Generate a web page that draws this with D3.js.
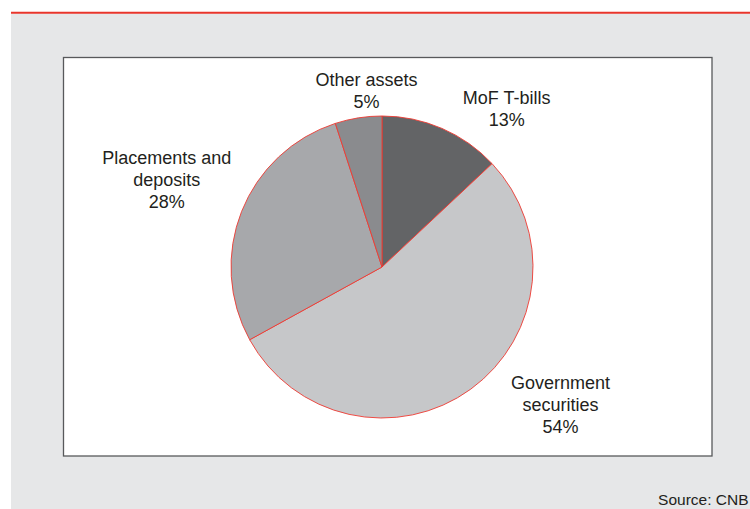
<!DOCTYPE html>
<html>
<head>
<meta charset="utf-8">
<script src="https://cdn.jsdelivr.net/npm/d3@7"></script>
<style>
  html, body { margin: 0; padding: 0; background: #ffffff; }
  svg { display: block; }
  text { font-family: "Liberation Sans", Arial, Helvetica, sans-serif; fill: #231f20; }
</style>
</head>
<body>
<svg id="chart" width="750" height="509"></svg>
<script>
// Asset structure, shares in percent (clockwise from 12 o'clock)
const categories = ["MoF T-bills", "Government securities", "Placements and deposits", "Other assets"];
const values = [13, 54, 28, 5];
const labelLines = [
  ["MoF T-bills", "13%"],
  ["Government", "securities", "54%"],
  ["Placements and", "deposits", "28%"],
  ["Other assets", "5%"]
];
const sliceColors = ["#636466", "#c6c7c9", "#a7a8ab", "#8a8b8e"];

const W = 750, H = 509;
const svg = d3.select("#chart");

// red rule and grey panel
svg.append("rect").attr("x", 11).attr("y", 13.5).attr("width", W - 11).attr("height", H - 13.5).attr("fill", "#e6e7e8");
svg.append("line").attr("x1", 11).attr("x2", W).attr("y1", 12.7).attr("y2", 12.7)
  .attr("stroke", "#e8352b").attr("stroke-width", 2);

// white plot box
const box = { x: 63.5, y: 57.5, w: 648.5, h: 398.5 };
svg.append("rect").attr("x", box.x).attr("y", box.y).attr("width", box.w).attr("height", box.h)
  .attr("fill", "#ffffff").attr("stroke", "#58595b").attr("stroke-width", 1.3);

// pie
const cx = 382, cy = 267, r = 151;
const pie = d3.pie().sort(null).value(d => d)(values);
const arc = d3.arc().innerRadius(0).outerRadius(r);
const g = svg.append("g").attr("transform", `translate(${cx},${cy})`);
g.selectAll("path").data(pie).join("path")
  .attr("d", arc)
  .attr("fill", (d, i) => sliceColors[i])
  .attr("stroke", "#ee3a32")
  .attr("stroke-width", 0.9)
  .attr("stroke-linejoin", "round");

// slice labels, one block of centred lines per slice
const fontSize = 18, lineH = 22;
const anchorPts = [
  [506.7, 104],
  [560.5, 388.5],
  [166.7, 163.5],
  [366.5, 86]
];
pie.forEach((d, i) => {
  const [lx, ly] = anchorPts[i];
  const t = svg.append("text")
    .attr("text-anchor", "middle")
    .attr("font-size", fontSize);
  labelLines[i].forEach((s, k) => {
    t.append("tspan").attr("x", lx).attr("y", ly + k * lineH).text(s);
  });
});

// source note
svg.append("text").attr("x", 748.5).attr("y", 504.5).attr("text-anchor", "end")
  .attr("font-size", 15.5).text("Source: CNB");
</script>
</body>
</html>
